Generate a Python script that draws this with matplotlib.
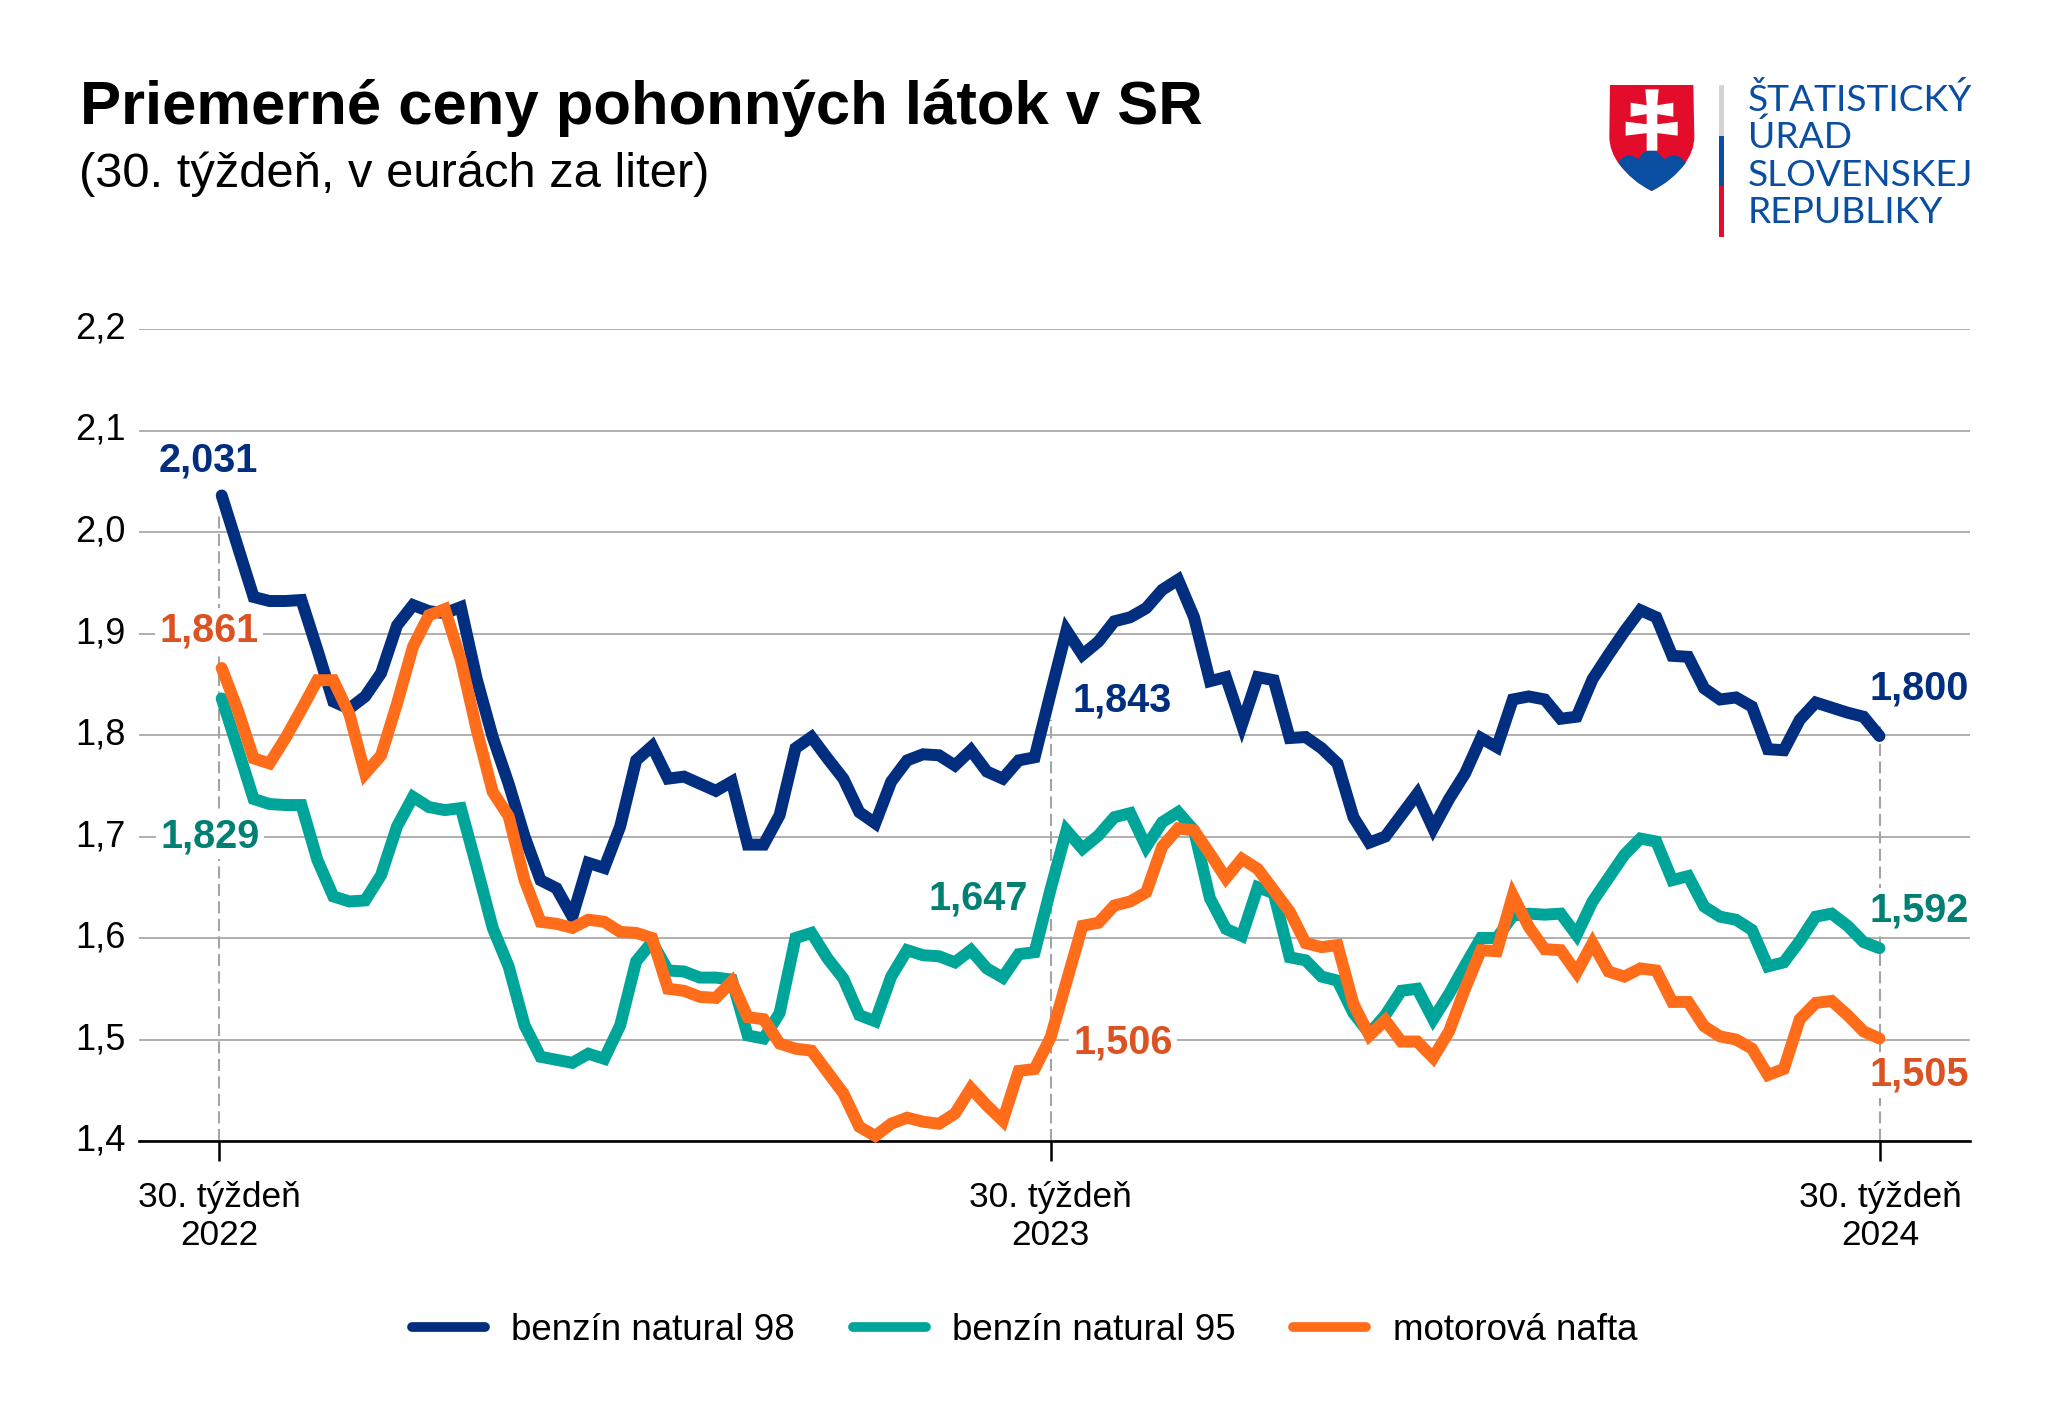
import matplotlib
matplotlib.use("Agg")
import matplotlib.pyplot as plt
from matplotlib.patches import PathPatch, Polygon, Rectangle
from matplotlib.path import Path
from matplotlib.transforms import Affine2D

W, H = 2048, 1427
plt.rcParams["font.family"] = ["Liberation Sans", "DejaVu Sans"]

Y_TICKS = [1.4, 1.5, 1.6, 1.7, 1.8, 1.9, 2.0, 2.1, 2.2]
Y_LABELS = ["1,4", "1,5", "1,6", "1,7", "1,8", "1,9", "2,0", "2,1", "2,2"]
X_TICKS = [-0.17, 52, 104.06]
X_LABELS = ["30. týždeň\n2022", "30. týždeň\n2023", "30. týždeň\n2024"]

NAVY_98 = [
    2.036, 1.986, 1.936, 1.932, 1.932, 1.933, 1.884, 1.833, 1.826, 1.838,
    1.861, 1.908, 1.928, 1.922, 1.920, 1.926, 1.855, 1.798, 1.752, 1.700,
    1.657, 1.649, 1.621, 1.674, 1.669, 1.710, 1.775, 1.789, 1.757, 1.759,
    1.752, 1.745, 1.754, 1.692, 1.692, 1.721, 1.787, 1.798, 1.777, 1.757,
    1.724, 1.713, 1.754, 1.775, 1.781, 1.780, 1.770, 1.785, 1.764, 1.757,
    1.775, 1.778, 1.841, 1.903, 1.879, 1.892, 1.912, 1.916, 1.925, 1.943,
    1.953, 1.916, 1.853, 1.857, 1.810, 1.857, 1.854, 1.797, 1.798, 1.787,
    1.772, 1.719, 1.694, 1.700, 1.721, 1.742, 1.708, 1.737, 1.762, 1.797,
    1.788, 1.835, 1.838, 1.835, 1.816, 1.818, 1.855, 1.879, 1.902, 1.923,
    1.916, 1.878, 1.877, 1.846, 1.835, 1.837, 1.828, 1.786, 1.785, 1.815,
    1.832, 1.827, 1.822, 1.818, 1.799,
]
TEAL_95 = [
    1.836, 1.787, 1.737, 1.732, 1.731, 1.731, 1.677, 1.641, 1.636, 1.637,
    1.662, 1.710, 1.739, 1.729, 1.726, 1.728, 1.670, 1.610, 1.572, 1.514,
    1.483, 1.480, 1.477, 1.486, 1.481, 1.514, 1.577, 1.596, 1.568, 1.567,
    1.561, 1.561, 1.559, 1.504, 1.501, 1.526, 1.600, 1.605, 1.580, 1.560,
    1.524, 1.518, 1.562, 1.588, 1.583, 1.582, 1.576, 1.588, 1.570, 1.561,
    1.584, 1.586, 1.648, 1.706, 1.688, 1.701, 1.719, 1.723, 1.690, 1.714,
    1.724, 1.706, 1.639, 1.609, 1.602, 1.650, 1.644, 1.581, 1.578, 1.562,
    1.558, 1.526, 1.506, 1.524, 1.548, 1.550, 1.520, 1.545, 1.573, 1.600,
    1.600, 1.622, 1.624, 1.623, 1.624, 1.603, 1.636, 1.659, 1.682, 1.698,
    1.695, 1.657, 1.661, 1.631, 1.621, 1.618, 1.608, 1.572, 1.576, 1.597,
    1.621, 1.624, 1.612, 1.596, 1.590,
]
ORANGE_NAFTA = [
    1.866, 1.825, 1.777, 1.772, 1.797, 1.825, 1.854, 1.854, 1.821, 1.762,
    1.780, 1.831, 1.887, 1.918, 1.924, 1.874, 1.805, 1.744, 1.720, 1.657,
    1.616, 1.614, 1.610, 1.618, 1.616, 1.606, 1.605, 1.600, 1.550, 1.548,
    1.542, 1.541, 1.557, 1.522, 1.520, 1.496, 1.491, 1.489, 1.468, 1.447,
    1.414, 1.405, 1.417, 1.423, 1.419, 1.417, 1.427, 1.452, 1.435, 1.420,
    1.469, 1.471, 1.502, 1.557, 1.612, 1.615, 1.632, 1.636, 1.645, 1.690,
    1.708, 1.706, 1.683, 1.659, 1.678, 1.668, 1.647, 1.626, 1.595, 1.591,
    1.593, 1.535, 1.504, 1.519, 1.498, 1.498, 1.482, 1.508, 1.550, 1.588,
    1.587, 1.642, 1.611, 1.589, 1.588, 1.566, 1.595, 1.567, 1.562, 1.570,
    1.568, 1.537, 1.537, 1.513, 1.503, 1.500, 1.491, 1.465, 1.471, 1.520,
    1.536, 1.538, 1.524, 1.508, 1.501,
]
SERIES_NAMES = ["benzín natural 98", "benzín natural 95", "motorová nafta"]
SERIES_COLORS = ["#012E7F", "#00A599", "#FF6C1A"]
DROP_TOPS = [2.02, 1.815, 1.812]

VALUE_LABELS = ["2,031", "1,861", "1,829", "1,647", "1,843", "1,506", "1,800", "1,592", "1,505"]
VALUE_COLORS = ["#012E7F", "#DC5323", "#007F73", "#007F73", "#012E7F", "#DC5323", "#012E7F", "#007F73", "#DC5323"]
VALUE_PX = [(208, 461), (209, 631), (210, 836), (978, 898), (1122, 700), (1123, 1043),
            (1919, 689), (1919, 911), (1919, 1075)]

LOGO_LINES = ["ŠTATISTICKÝ", "ÚRAD", "SLOVENSKEJ", "REPUBLIKY"]
LOGO_BLUE = "#0A4EA2"
LOGO_RED = "#E30D2B"

fig = plt.figure(figsize=(W / 100, H / 100), dpi=100, facecolor="white")
px = Affine2D().scale(1, -1).translate(0, H)  # text placed in reference pixels

ax = fig.add_axes([139 / W, 1 - 1141 / H, (1970 - 139) / W, (1141 - 329) / H])
x_left = (139 - 221.7) / 15.94
x_right = (1970 - 221.7) / 15.94
ax.set_xlim(x_left, x_right)
ax.set_ylim(1.4, 2.2)

ax.set_yticks(Y_TICKS)
ax.set_yticklabels(Y_LABELS, fontsize=26)
ax.set_xticks(X_TICKS)
ax.set_xticklabels(X_LABELS, fontsize=25.4, linespacing=1.19)
ax.tick_params(axis="y", length=0, pad=9.5)
ax.tick_params(axis="x", length=14.5, width=1.8, pad=14, color="black")
for label in ax.get_yticklabels():
    label.set_transform(label.get_transform() + Affine2D().translate(0, 4))
ax.grid(axis="y", color="#ABA8A8", linewidth=1.3, zorder=0)
ax.set_axisbelow(True)
for side in ["top", "left", "right"]:
    ax.spines[side].set_visible(False)
ax.spines["bottom"].set_linewidth(1.9)

for x_pos, top in zip(X_TICKS, DROP_TOPS):
    ax.plot([x_pos, x_pos], [1.4, top], color="#A5A3A3", linewidth=1.5,
            dashes=(5.8, 2.6), zorder=1)

weeks = list(range(len(NAVY_98)))
for values, name, color in zip([NAVY_98, TEAL_95, ORANGE_NAFTA], SERIES_NAMES, SERIES_COLORS):
    ax.plot(weeks, values, color=color, linewidth=8.6, label=name, zorder=3, clip_on=False,
            solid_capstyle="round", solid_joinstyle="miter")

for text, color, pos in zip(VALUE_LABELS, VALUE_COLORS, VALUE_PX):
    ax.text(pos[0], pos[1], text, transform=px, color=color, fontsize=28.5, fontweight="bold",
            ha="center", va="center", zorder=2,
            bbox=dict(facecolor="white", edgecolor="none", pad=3))

leg = fig.legend(loc="center", bbox_to_anchor=(1024.5 / W, 1 - 1330 / H), ncol=3, frameon=False,
                 fontsize=26.5, handlelength=1.98, handletextpad=0.72, columnspacing=1.57)
for handle in leg.get_lines():
    handle.set_linewidth(7)

fig.text(80 / W, 1 - 124 / H, "Priemerné ceny pohonných látok v SR", fontsize=44.4,
         fontweight="bold", ha="left", va="baseline")
fig.text(79 / W, 1 - 187 / H, "(30. týždeň, v eurách za liter)", fontsize=35.2,
         ha="left", va="baseline")

# logo drawn in an overlay working in reference pixels
logo = fig.add_axes([0, 0, 1, 1], facecolor="none")
logo.set_xlim(0, W)
logo.set_ylim(H, 0)
logo.axis("off")


def z(x, y):
    return 1560 + x / 3, 60 + y / 3


shield = Path(
    [z(150, 75), z(400, 75), z(403, 230), z(403, 320), z(275, 393), z(148, 320), z(148, 230), z(150, 75)],
    [Path.MOVETO, Path.LINETO, Path.LINETO, Path.CURVE3, Path.CURVE3, Path.CURVE3, Path.CURVE3, Path.CLOSEPOLY],
)
logo.add_patch(PathPatch(shield, facecolor=LOGO_RED, edgecolor="none"))

hills = Path(
    [z(175, 308), z(200, 270), z(235, 298), z(270, 240), z(312, 298), z(348, 270), z(378, 308),
     z(335, 365), z(275, 393), z(215, 365), z(175, 308)],
    [Path.MOVETO, Path.CURVE3, Path.CURVE3, Path.CURVE3, Path.CURVE3, Path.CURVE3, Path.CURVE3,
     Path.CURVE3, Path.CURVE3, Path.CURVE3, Path.CURVE3],
)
logo.add_patch(PathPatch(hills, facecolor=LOGO_BLUE, edgecolor="none"))

cross_parts = [
    [(256, 88), (296, 88), (292, 135), (292, 272), (260, 272), (260, 135)],
    [(212, 128), (262, 136), (290, 136), (340, 128), (340, 170), (290, 162), (262, 162), (212, 170)],
    [(197, 185), (262, 193), (290, 193), (353, 185), (353, 227), (290, 219), (262, 219), (197, 227)],
]
for part in cross_parts:
    logo.add_patch(Polygon([z(*p) for p in part], closed=True, facecolor="white", edgecolor="none"))

for y0, y1, color in [(85, 136, "#D1D3D4"), (136, 186, LOGO_BLUE), (186, 237, LOGO_RED)]:
    logo.add_patch(Rectangle((1719, y0), 4.5, y1 - y0, facecolor=color, edgecolor="none"))

for line, base in zip(LOGO_LINES, [111, 148, 186, 223]):
    logo.text(1748, base, line, color=LOGO_BLUE, fontsize=26.7, family="Lato",
              ha="left", va="baseline")

fig.savefig("out.png", dpi=100)
